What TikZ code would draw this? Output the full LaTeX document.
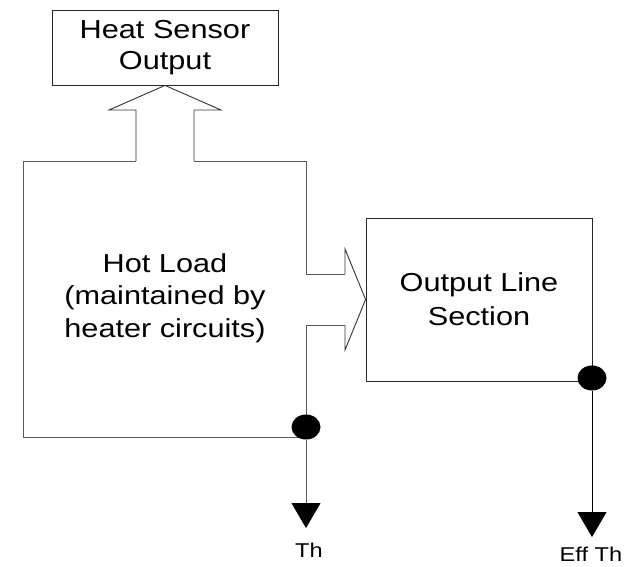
\documentclass[tikz,border=0pt]{standalone}
\usepackage{fontspec}
\setmainfont[FakeStretch=1.18]{Liberation Sans}
\usetikzlibrary{shapes.geometric,arrows.meta}
\begin{document}
\begin{tikzpicture}[x=1pt,y=-1pt,
  blockbox/.style={draw=black!85,line width=0.8pt,align=center,inner sep=0pt,
    font=\fontsize{26}{31}\selectfont},
  loadline/.style={draw=black!65,line width=0.9pt,line join=miter},
  junction/.style={ellipse,fill=black,inner sep=0pt,minimum width=29pt,minimum height=25pt},
  downarrow/.style={line width=0.8pt,-{Triangle[width=29pt,length=25pt,black]}},
  smalllabel/.style={font=\fontsize{20}{24}\selectfont,anchor=base,inner sep=0pt}]
\useasboundingbox (0,0) rectangle (640,566);
% boxes
\node[blockbox,minimum width=226pt,minimum height=75pt] (hs) at (165,47.5) {Heat Sensor\\Output};
\node[blockbox,minimum width=226pt,minimum height=163pt,font=\fontsize{26}{34}\selectfont] (ol) at (479,299.5) {Output Line\\Section};
\node[align=center,inner sep=0pt,font=\fontsize{26}{32.5}\selectfont] (hl) at (165,298) {Hot Load\\(maintained by\\heater circuits)};
% hot load outline with block arrows
\coordinate (apex) at (hs.south);
\coordinate (tip) at (ol.west);
\draw[loadline,draw=black!80] (136,161) -- (136,110) -- (109,110) -- (apex) -- (221,110) -- (194,110) -- (194,161);
\draw[loadline] (194,161) -- (306,161) -- (306,274) -- (345,274);
\draw[loadline,draw=black!80] (345,274) -- (345,249) -- (tip) -- (345,350) -- (345,325);
\draw[loadline] (345,325) -- (306,325) -- (306,427);
\draw[loadline] (136,161) -- (23,161) -- (23,437) -- (306,437);
% junctions
\node[junction] (j1) at (306,427) {};
\node[junction] (j2) at (592,378) {};
\coordinate (th) at (306,528);
\coordinate (eff) at (592,537);
\draw[downarrow,draw=black!65] (j1) -- (th);
\draw[downarrow,draw=black] (j2) -- (eff);
\node[smalllabel] (thl) at (309,557) {Th};
\node[smalllabel] (effl) at (591,561) {Eff Th};
\end{tikzpicture}
\end{document}
